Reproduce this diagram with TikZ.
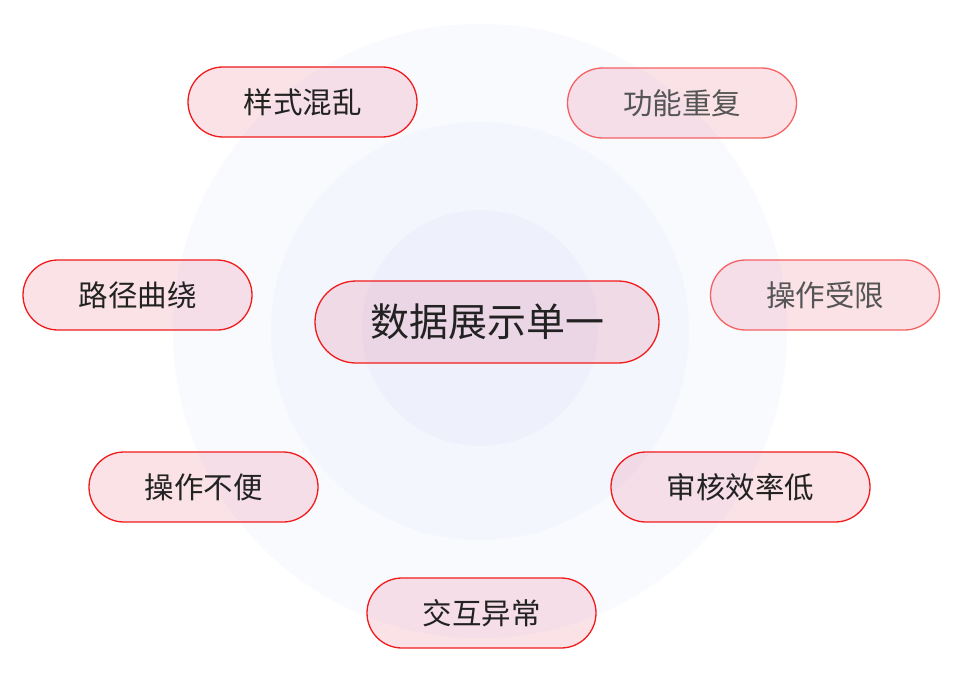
\documentclass[tikz,border=0pt]{standalone}
\usepackage{fontspec}
\setmainfont{Noto Sans CJK SC}
\definecolor{bgA}{HTML}{F9FAFE}
\definecolor{bgB}{HTML}{F4F6FD}
\definecolor{bgC}{HTML}{EEF1FC}
\definecolor{pillfill}{RGB}{222,52,92}
\definecolor{pilledge}{HTML}{F21B1B}
\definecolor{txt}{HTML}{222222}
\definecolor{txtfade}{HTML}{555555}
\tikzset{
  pill/.style={draw=pilledge, line width=1.3bp, fill=pillfill, fill opacity=0.14, text opacity=1,
    rounded corners=35bp, minimum width=229bp, minimum height=70bp, inner sep=0pt,
    text=txt, font=\fontsize{29.5bp}{29.5bp}\selectfont},
  fadedpill/.style={pill, draw=pilledge!80, text=txtfade, draw opacity=0.85},
  bigpill/.style={pill, rounded corners=41bp, minimum width=344bp, minimum height=82bp,
    font=\fontsize{39bp}{39bp}\selectfont}
}
\begin{document}
\begin{tikzpicture}[x=1bp,y=-1bp]
\useasboundingbox[fill=white] (0,0) rectangle (973,674);
% background rings
\fill[bgA] (480,331) circle[radius=307];
\fill[bgB] (480,331) circle[radius=209];
\fill[bgC] (480,328) circle[radius=118];
% pills
\node[pill] (p1) at (302.5,102) {样式混乱};
\node[fadedpill] (p2) at (682,103) {功能重复};
\node[pill] (p3) at (137.5,295) {路径曲绕};
\node[bigpill] (c) at (487,322) {数据展示单一};
\node[fadedpill] (p4) at (825,295) {操作受限};
\node[pill] (p5) at (203.5,487) {操作不便};
\node[pill, minimum width=259bp] (p6) at (740.5,487) {审核效率低};
\node[pill] (p7) at (481.5,613) {交互异常};
\end{tikzpicture}
\end{document}
